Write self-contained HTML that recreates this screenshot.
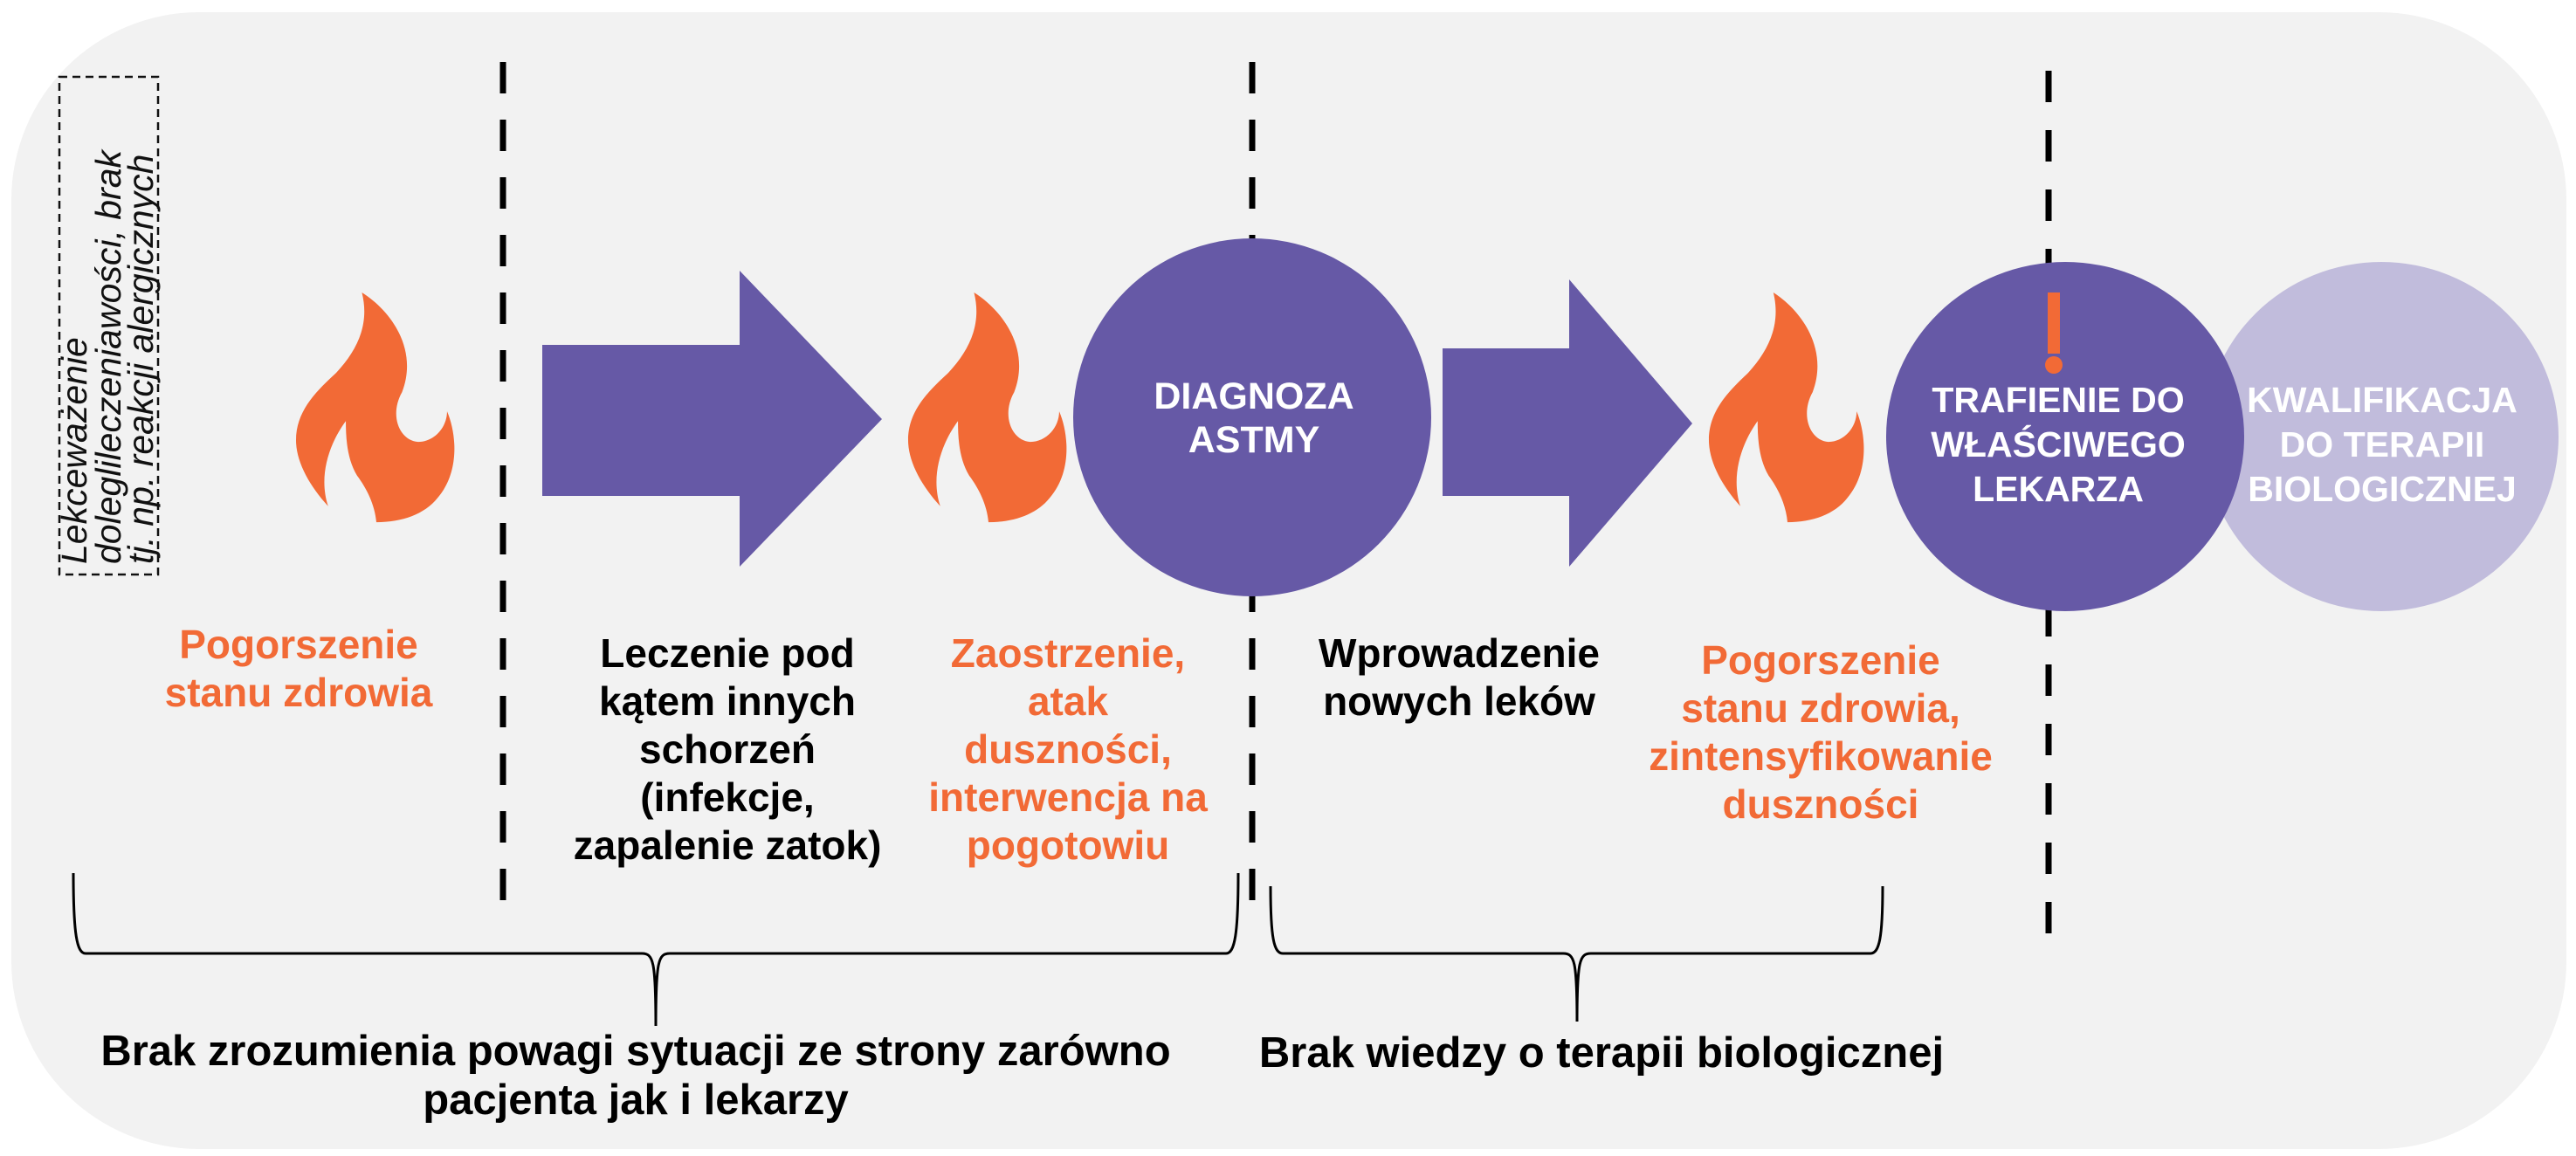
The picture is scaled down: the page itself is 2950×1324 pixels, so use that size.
<!DOCTYPE html>
<html><head><meta charset="utf-8"><style>
html,body{margin:0;padding:0;background:#fff;}
svg{display:block;}
text{font-family:"Liberation Sans",Arial,sans-serif;}
</style></head><body>
<svg width="2950" height="1324" viewBox="0 0 2950 1324" xmlns="http://www.w3.org/2000/svg">
<defs>
<path id="flame" d="M41,0 C60,12 76,36 66,62 C58,76 64,92 76,93 C86,93 94,84 94,74 C100,88 102,112 88,128 C80,138 66,143 50,143 C49,132 44,122 38,114 C32,104 31,92 31,80 C20,95 14,115 20,133 C8,120 0,105 0,92 C0,74 12,62 25,50 C38,36 46,20 41,0 Z" fill="#f26a36"/>
</defs>
<rect x="13" y="14" width="2926" height="1302" rx="215" ry="215" fill="#f2f2f2"/>

<!-- dashed box -->
<rect x="68" y="88" width="113" height="570" fill="none" stroke="#111" stroke-width="2.5" stroke-dasharray="9,6"/>
<g font-style="italic" font-size="41" fill="#111">
<text transform="translate(99,646) rotate(-90)">Lekceważenie</text>
<text transform="translate(138,646) rotate(-90)">doleglileczeniawości, brak</text>
<text transform="translate(175,646) rotate(-90)">tj. np. reakcji alergicznych</text>
</g>

<!-- dashed lines -->
<g stroke="#000" stroke-width="7">
<line x1="576" y1="71" x2="576" y2="1031" stroke-dasharray="36,30"/>
<line x1="1434" y1="71" x2="1434" y2="1031" stroke-dasharray="36,30"/>
<line x1="2346" y1="81" x2="2346" y2="1072" stroke-dasharray="36,32"/>
</g>

<!-- flames -->
<use href="#flame" transform="translate(339,335) scale(1.84,1.84)"/>
<use href="#flame" transform="translate(1040,335) scale(1.84,1.84)"/>
<use href="#flame" transform="translate(1957,335) scale(1.80,1.84)"/>

<!-- arrows -->
<polygon points="621,395 847,395 847,310 1010,480 847,649 847,568 621,568" fill="#6659a6"/>
<polygon points="1652,399 1797,399 1797,320 1938,485 1797,649 1797,568 1652,568" fill="#6659a6"/>

<!-- circles -->
<circle cx="1434" cy="478" r="205" fill="#6659a6"/>
<ellipse cx="2727" cy="500" rx="203" ry="200" fill="#c1bcdc"/>
<ellipse cx="2365" cy="500" rx="205" ry="200" fill="#6659a6"/>
<rect x="2345" y="335" width="14" height="70" fill="#f26a36"/>
<circle cx="2352" cy="418" r="10" fill="#f26a36"/>

<g font-weight="bold" font-size="43" fill="#fff" text-anchor="middle">
<text x="1436" y="468">DIAGNOZA</text>
<text x="1436" y="518">ASTMY</text>
</g>
<g font-weight="bold" font-size="41" fill="#fff" text-anchor="middle">
<text x="2357" y="472">TRAFIENIE DO</text>
<text x="2357" y="523">WŁAŚCIWEGO</text>
<text x="2357" y="574">LEKARZA</text>
<text x="2728" y="472">KWALIFIKACJA</text>
<text x="2728" y="523">DO TERAPII</text>
<text x="2728" y="574">BIOLOGICZNEJ</text>
</g>

<g font-weight="bold" font-size="46" text-anchor="middle">
<g fill="#f26a36">
<text x="342" y="754">Pogorszenie</text>
<text x="342" y="809">stanu zdrowia</text>
<text x="1223" y="764">Zaostrzenie,</text>
<text x="1223" y="819">atak</text>
<text x="1223" y="874">duszności,</text>
<text x="1223" y="929">interwencja na</text>
<text x="1223" y="984">pogotowiu</text>
<text x="2085" y="772">Pogorszenie</text>
<text x="2085" y="827">stanu zdrowia,</text>
<text x="2085" y="882">zintensyfikowanie</text>
<text x="2085" y="937">duszności</text>
</g>
<g fill="#000">
<text x="833" y="764">Leczenie pod</text>
<text x="833" y="819">kątem innych</text>
<text x="833" y="874">schorzeń</text>
<text x="833" y="929">(infekcje,</text>
<text x="833" y="984">zapalenie zatok)</text>
<text x="1671" y="764">Wprowadzenie</text>
<text x="1671" y="819">nowych leków</text>
</g>
</g>

<!-- braces -->
<g fill="none" stroke="#000" stroke-width="3">
<path d="M84,1000 C84,1070 88,1092 98,1092 L735,1092 C748,1092 751,1100 751,1175 C751,1100 754,1092 767,1092 L1404,1092 C1414,1092 1418,1070 1418,1000"/>
<path d="M1455,1015 C1455,1075 1459,1092 1469,1092 L1790,1092 C1803,1092 1806,1100 1806,1170 C1806,1100 1809,1092 1822,1092 L2142,1092 C2152,1092 2156,1075 2156,1015"/>
</g>

<g font-weight="bold" font-size="49" fill="#000" text-anchor="middle">
<text x="728" y="1220">Brak zrozumienia powagi sytuacji ze strony zarówno</text>
<text x="728" y="1276">pacjenta jak i lekarzy</text>
<text x="1834" y="1222">Brak wiedzy o terapii biologicznej</text>
</g>
</svg>
</body></html>
